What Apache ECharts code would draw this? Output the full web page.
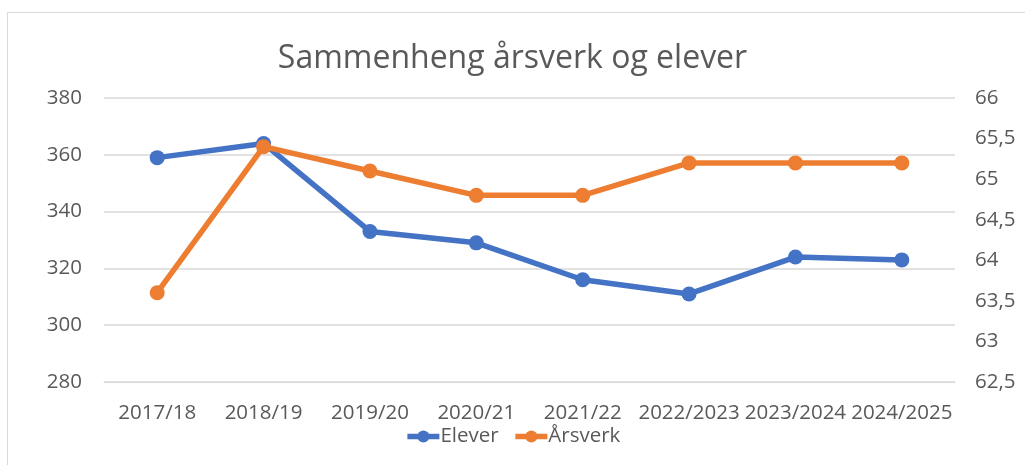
<!DOCTYPE html>
<html>
<head>
<meta charset="utf-8">
<script src="https://cdn.jsdelivr.net/npm/echarts@6/dist/echarts.min.js"></script>
<style>
  html, body { margin: 0; padding: 0; background: #fff; }
  #frame {
    position: absolute; left: 7px; top: 12px; width: 1100px; height: 500px;
    border: 1px solid #d9d9d9; box-sizing: border-box;
  }
  #chart { position: absolute; left: 0; top: 0; width: 1025px; height: 465px; }
</style>
</head>
<body>
<div id="frame"></div>
<div id="chart"></div>
<script>
const categories = ['2017/18', '2018/19', '2019/20', '2020/21', '2021/22', '2022/2023', '2023/2024', '2024/2025']
const elever = [359, 364, 333, 329, 316, 311, 324, 323]
const arsverk = [63.6, 65.4, 65.1, 64.8, 64.8, 65.2, 65.2, 65.2]

const textColor = '#595959'
const font = '"Open Sans", sans-serif'

const chart = echarts.init(document.getElementById('chart'))

chart.setOption({
  animation: false,
  title: {
    text: 'Sammenheng årsverk og elever',
    left: 'center',
    top: 38,
    textStyle: { fontSize: 32, fontWeight: 'normal', color: textColor, fontFamily: font },
  },
  legend: {
    data: ['Elever', 'Årsverk'],
    bottom: 13,
    left: 'center',
    itemWidth: 32,
    itemHeight: 15,
    itemGap: 14,
    lineStyle: { width: 5.5 },
    textStyle: { fontSize: 20.5, color: textColor, fontFamily: font, padding: [0, 0, 0, -4] },
  },
  grid: { left: 104, right: 70, top: 98, bottom: 83 },
  xAxis: {
    type: 'category',
    data: categories,
    axisLine: { lineStyle: { color: '#d9d9d9', width: 1 } },
    axisTick: { show: false },
    axisLabel: { interval: 0, fontSize: 20.5, color: textColor, fontFamily: font, margin: 21 },
  },
  yAxis: [
    {
      type: 'value',
      min: 280,
      max: 380,
      interval: 20,
      axisLine: { show: false },
      axisTick: { show: false },
      splitLine: { lineStyle: { color: '#d9d9d9', width: 1.5 } },
      axisLabel: { fontSize: 20.5, color: textColor, fontFamily: font, margin: 22 },
    },
    {
      type: 'value',
      min: 62.5,
      max: 66,
      interval: 0.5,
      axisLine: { show: false },
      axisTick: { show: false },
      splitLine: { show: false },
      axisLabel: {
        fontSize: 20.5, color: textColor, fontFamily: font, margin: 20,
        formatter: v => String(v).replace('.', ','),
      },
    },
  ],
  series: [
    {
      name: 'Elever',
      type: 'line',
      data: elever,
      yAxisIndex: 0,
      symbol: 'circle',
      symbolSize: 15,
      itemStyle: { color: '#4472C4' },
      lineStyle: { width: 5.5, color: '#4472C4' },
    },
    {
      name: 'Årsverk',
      type: 'line',
      data: arsverk,
      yAxisIndex: 1,
      symbol: 'circle',
      symbolSize: 15,
      itemStyle: { color: '#ED7D31' },
      lineStyle: { width: 5.5, color: '#ED7D31' },
    },
  ],
})
</script>
</body>
</html>
